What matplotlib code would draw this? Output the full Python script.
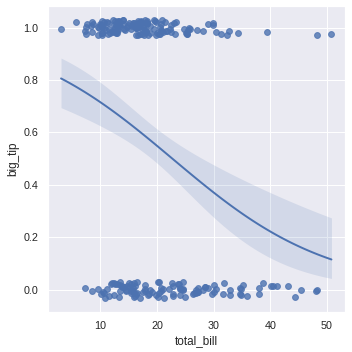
# importing libraries
import numpy as np
import matplotlib
matplotlib.use('Agg')
import matplotlib.pyplot as plt
import seaborn as sns

# tips data (total bill and tip)
total_bill = [16.99, 10.34, 21.01, 23.68, 24.59, 25.29, 8.77, 26.88, 15.04, 14.78,
              10.27, 35.26, 15.42, 18.43, 14.83, 21.58, 10.33, 16.29, 16.97, 20.65,
              17.92, 20.29, 15.77, 39.42, 19.82, 17.81, 13.37, 12.69, 21.70, 19.65,
              9.55, 18.35, 15.06, 20.69, 17.78, 24.06, 16.31, 16.93, 18.69, 31.27,
              16.04, 17.46, 13.94, 9.68, 30.40, 18.29, 22.23, 32.40, 28.55, 18.04,
              12.54, 10.29, 34.81, 9.94, 25.56, 19.49, 38.01, 26.41, 11.24, 48.27,
              20.29, 13.81, 11.02, 18.29, 17.59, 20.08, 16.45, 3.07, 20.23, 15.01,
              12.02, 17.07, 26.86, 25.28, 14.73, 10.51, 17.92, 27.20, 22.76, 17.29,
              19.44, 16.66, 10.07, 32.68, 15.98, 34.83, 13.03, 18.28, 24.71, 21.16,
              28.97, 22.49, 5.75, 16.32, 22.75, 40.17, 27.28, 12.03, 21.01, 12.46,
              11.35, 15.38, 44.30, 22.42, 20.92, 15.36, 20.49, 25.21, 18.24, 14.31,
              14.00, 7.25, 38.07, 23.95, 25.71, 17.31, 29.93, 10.65, 12.43, 24.08,
              11.69, 13.42, 14.26, 15.95, 12.48, 29.80, 8.52, 14.52, 11.38, 22.82,
              19.08, 20.27, 11.17, 12.26, 18.26, 8.51, 10.33, 14.15, 16.00, 13.16,
              17.47, 34.30, 41.19, 27.05, 16.43, 8.35, 18.64, 11.87, 9.78, 7.51,
              14.07, 13.13, 17.26, 24.55, 19.77, 29.85, 48.17, 25.00, 13.39, 16.49,
              21.50, 12.66, 16.21, 13.81, 17.51, 24.52, 20.76, 31.71, 10.59, 10.63,
              50.81, 15.81, 7.25, 31.85, 16.82, 32.90, 17.89, 14.48, 9.60, 34.63,
              34.65, 23.33, 45.35, 23.17, 40.55, 20.69, 20.90, 30.46, 18.15, 23.10,
              15.69, 19.81, 28.44, 15.48, 16.58, 7.56, 10.34, 43.11, 13.00, 13.51,
              18.71, 12.74, 13.00, 16.40, 20.53, 16.47, 26.59, 38.73, 24.27, 12.76,
              30.06, 25.89, 48.33, 13.27, 28.17, 12.90, 28.15, 11.59, 7.74, 30.14,
              12.16, 13.42, 8.58, 15.98, 13.42, 16.27, 10.09, 20.45, 13.28, 22.12,
              24.01, 15.69, 11.61, 10.77, 15.53, 10.07, 12.60, 32.83, 35.83, 29.03,
              27.18, 22.67, 17.82, 18.78]
tip = [1.01, 1.66, 3.50, 3.31, 3.61, 4.71, 2.00, 3.12, 1.96, 3.23,
       1.71, 5.00, 1.57, 3.00, 3.02, 3.92, 1.67, 3.71, 3.50, 3.35,
       4.08, 2.75, 2.23, 7.58, 3.18, 2.34, 2.00, 2.00, 4.30, 3.00,
       1.45, 2.50, 3.00, 2.45, 3.27, 3.60, 2.00, 3.07, 2.31, 5.00,
       2.24, 2.54, 3.06, 1.32, 5.60, 3.00, 5.00, 6.00, 2.05, 3.00,
       2.50, 2.60, 5.20, 1.56, 4.34, 3.51, 3.00, 1.50, 1.76, 6.73,
       3.21, 2.00, 1.98, 3.76, 2.64, 3.15, 2.47, 1.00, 2.01, 2.09,
       1.97, 3.00, 3.14, 5.00, 2.20, 1.25, 3.08, 4.00, 3.00, 2.71,
       3.00, 3.40, 1.83, 5.00, 2.03, 5.17, 2.00, 4.00, 5.85, 3.00,
       3.00, 3.50, 1.00, 4.30, 3.25, 4.73, 4.00, 1.50, 3.00, 1.50,
       2.50, 3.00, 2.50, 3.48, 4.08, 1.64, 4.06, 4.29, 3.76, 4.00,
       3.00, 1.00, 4.00, 2.55, 4.00, 3.50, 5.07, 1.50, 1.80, 2.92,
       2.31, 1.68, 2.50, 2.00, 2.52, 4.20, 1.48, 2.00, 2.00, 2.18,
       1.50, 2.83, 1.50, 2.00, 3.25, 1.25, 2.00, 2.00, 2.00, 2.75,
       3.50, 6.70, 5.00, 5.00, 2.30, 1.50, 1.36, 1.63, 1.73, 2.00,
       2.50, 2.00, 2.74, 2.00, 2.00, 5.14, 5.00, 3.75, 2.61, 2.00,
       3.50, 2.50, 2.00, 2.00, 3.00, 3.48, 2.24, 4.50, 1.61, 2.00,
       10.00, 3.16, 5.15, 3.18, 4.00, 3.11, 2.00, 2.00, 4.00, 3.55,
       3.68, 5.65, 3.50, 6.50, 3.00, 5.00, 3.50, 2.00, 3.50, 4.00,
       1.50, 4.19, 2.56, 2.02, 4.00, 1.44, 2.00, 5.00, 2.00, 2.00,
       4.00, 2.01, 2.00, 2.50, 4.00, 3.23, 3.41, 3.00, 2.03, 2.23,
       2.00, 5.16, 9.00, 2.50, 6.50, 1.10, 3.00, 1.50, 1.44, 3.09,
       2.20, 3.48, 1.92, 3.00, 1.58, 2.50, 2.00, 3.00, 2.72, 2.88,
       2.00, 3.00, 3.39, 1.47, 3.00, 1.25, 1.00, 1.17, 4.67, 5.92,
       2.00, 2.00, 1.75, 3.00]
assert len(total_bill) == len(tip)

x = np.array(total_bill)
y = (np.array(tip) / x > .15).astype(float)
n = len(x)

# small vertical jitter so the points don't overlap (deterministic)
jitter = ((np.arange(n) * 0.6180339887) % 1 - 0.5) * 0.06

# logistic regression by newton's method
X = np.column_stack([np.ones(n), x])
beta = np.zeros(2)
for it in range(50):
    p = 1 / (1 + np.exp(-X @ beta))
    W = p * (1 - p)
    H = X.T @ (X * W[:, None])
    beta = beta + np.linalg.solve(H, X.T @ (y - p))
p = 1 / (1 + np.exp(-X @ beta))
cov = np.linalg.inv(X.T @ (X * (p * (1 - p))[:, None]))

grid = np.linspace(x.min(), x.max(), 100)
G = np.column_stack([np.ones(100), grid])
eta = G @ beta
se = np.sqrt(np.einsum('ij,jk,ik->i', G, cov, G))
yhat = 1 / (1 + np.exp(-eta))
lo = 1 / (1 + np.exp(-(eta - 1.96 * se)))
hi = 1 / (1 + np.exp(-(eta + 1.96 * se)))

# plotting
sns.set_theme()
plt.rcParams['font.family'] = ['Liberation Sans', 'DejaVu Sans']
color = sns.color_palette()[0]
fig, ax = plt.subplots(figsize=(5, 5), dpi=70.4)
ax.scatter(x, y + jitter, color=color, alpha=.8, s=36, linewidths=1)
ax.plot(grid, yhat, color=color, lw=2)
ax.fill_between(grid, lo, hi, color=color, alpha=.15, lw=0)
ax.set_xlabel('total_bill')
ax.set_ylabel('big_tip')
plt.subplots_adjust(left=0.135, right=0.98, top=0.983, bottom=0.115)
plt.savefig('out.png')
